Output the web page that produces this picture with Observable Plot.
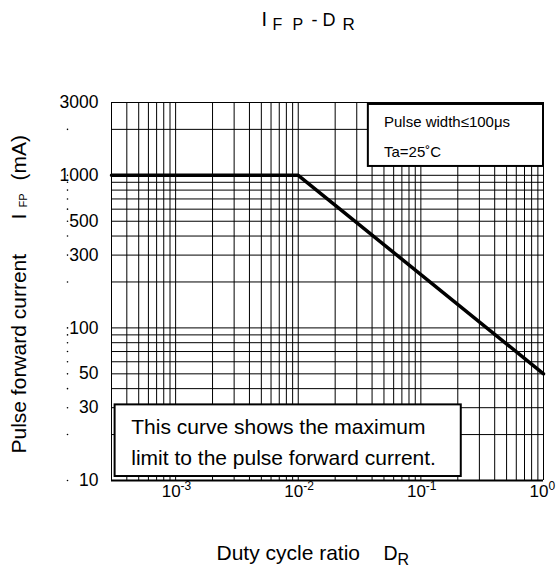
<!DOCTYPE html>
<html>
<head>
<meta charset="utf-8">
<script src="https://cdn.jsdelivr.net/npm/d3@7"></script>
<script src="https://cdn.jsdelivr.net/npm/@observablehq/plot@0.6"></script>
<style>
  html, body { margin: 0; padding: 0; background: white; }
  #chart { width: 559px; height: 568px; }
</style>
</head>
<body>
<div id="chart"></div>
<script>
// ---- data ----
const dutyRatio = [0.0003, 0.01, 1];          // D_R
const pulseCurrent = [1000, 1000, 50];         // I_FP (mA)
const xTickDecades = [0.001, 0.01, 0.1, 1];
const yTickLabels = [10, 30, 50, 100, 300, 500, 1000, 3000];
const conditionLines = ["Pulse width≤100μs", "Ta=25˚C"];
const noteLines = ["This curve shows the maximum", "limit to the pulse forward current."];

// grid values (1..9 × each decade inside the domain)
const xGrid = [];
for (let e = -4; e <= 0; e++) for (let k = 1; k <= 9; k++) { const v = k * 10 ** e; if (v >= 0.0003 - 1e-12 && v <= 1 + 1e-12) xGrid.push(v); }
const yGrid = [];
for (let e = 1; e <= 3; e++) for (let k = 1; k <= 9; k++) { const v = k * 10 ** e; if (v >= 10 && v <= 3000) yGrid.push(v); }

const W = 559, H = 568, ML = 111, MR = 16, MT = 102, MB = 88;
const FONT = "'Liberation Sans', Arial, Helvetica, sans-serif";

function pxText(str, px, py, o = {}) {
  return Plot.text([str], {
    text: d => d, frameAnchor: "top-left", dx: px - ML, dy: py - MT,
    lineAnchor: "bottom", textAnchor: "start", fill: "black", ...o
  });
}

const chart = Plot.plot({
  width: W, height: H,
  marginLeft: ML, marginRight: MR, marginTop: MT, marginBottom: MB,
  style: { fontFamily: FONT, background: "white", color: "black" },
  x: { type: "log", domain: [0.0003, 1], axis: null },
  y: { type: "log", domain: [10, 3000], axis: null },
  marks: [
    Plot.ruleX(xGrid, { stroke: "black", strokeWidth: 1 }),
    Plot.ruleY(yGrid, { stroke: "black", strokeWidth: 1 }),
    Plot.ruleY([10], { stroke: "black", strokeWidth: 2 }),
    Plot.dot(yGrid, { y: d => d, frameAnchor: "left", dx: -44, r: 0.8, fill: "black", stroke: null }),
    Plot.line(d3.range(dutyRatio.length), {
      x: i => dutyRatio[i], y: i => pulseCurrent[i],
      stroke: "black", strokeWidth: 3.5, strokeLinejoin: "miter"
    }),
    // condition box (top right)
    Plot.rect([0], { x1: 0.0373, x2: 1, y1: 1143, y2: 2912, fill: "white", stroke: "black", strokeWidth: 2 }),
    Plot.text([conditionLines.join("\n")], {
      x: 0.05, y: 1310, text: d => d, textAnchor: "start", lineAnchor: "bottom",
      lineHeight: 2, fontSize: 15, fill: "black"
    }),
    // note box (bottom left)
    Plot.rect([0], { x1: 0.000321, x2: 0.2135, y1: 10.62, y2: 31.3, fill: "white", stroke: "black", strokeWidth: 2 }),
    Plot.text([noteLines.join("\n")], {
      x: 0.000435, y: 12.7, text: d => d, textAnchor: "start", lineAnchor: "bottom",
      lineHeight: 1.46, fontSize: 21, fill: "black"
    }),
    // y tick labels
    Plot.axisY(yTickLabels, { tickSize: 0, tickPadding: 13, fontSize: 17.5, tickFormat: d => String(d), label: null }),
    // x tick labels 10^n
    Plot.text(xTickDecades, { x: d => d, frameAnchor: "bottom", text: () => "10", textAnchor: "end", dx: 5, dy: 16.5, fontSize: 17, fill: "black" }),
    Plot.text(xTickDecades, { x: d => d, frameAnchor: "bottom", text: d => String(Math.round(Math.log10(d))), textAnchor: "start", dx: 5, dy: 9, fontSize: 12, fill: "black" }),
    // title I_FP - D_R
    pxText("I", 261, 25, { fontSize: 20 }),
    pxText("F", 272, 29, { fontSize: 16 }),
    pxText("P", 292, 29, { fontSize: 16 }),
    pxText("-", 311, 25, { fontSize: 18 }),
    pxText("D", 322, 25, { fontSize: 18 }),
    pxText("R", 342, 29, { fontSize: 17 }),
    // x axis title
    pxText("Duty cycle ratio", 216, 559, { fontSize: 21 }),
    pxText("D", 383, 559, { fontSize: 19.5 }),
    pxText("R", 397, 564, { fontSize: 16 }),
    // y axis title (rotated)
    pxText("Pulse forward current", 25, 453, { fontSize: 21, rotate: -90 }),
    pxText("I", 25, 219, { fontSize: 21, rotate: -90 }),
    pxText("FP", 26.5, 207, { fontSize: 11, rotate: -90 }),
    pxText("(mA)", 25, 180, { fontSize: 21, rotate: -90 })
  ]
});
document.getElementById("chart").appendChild(chart);
</script>
</body>
</html>
